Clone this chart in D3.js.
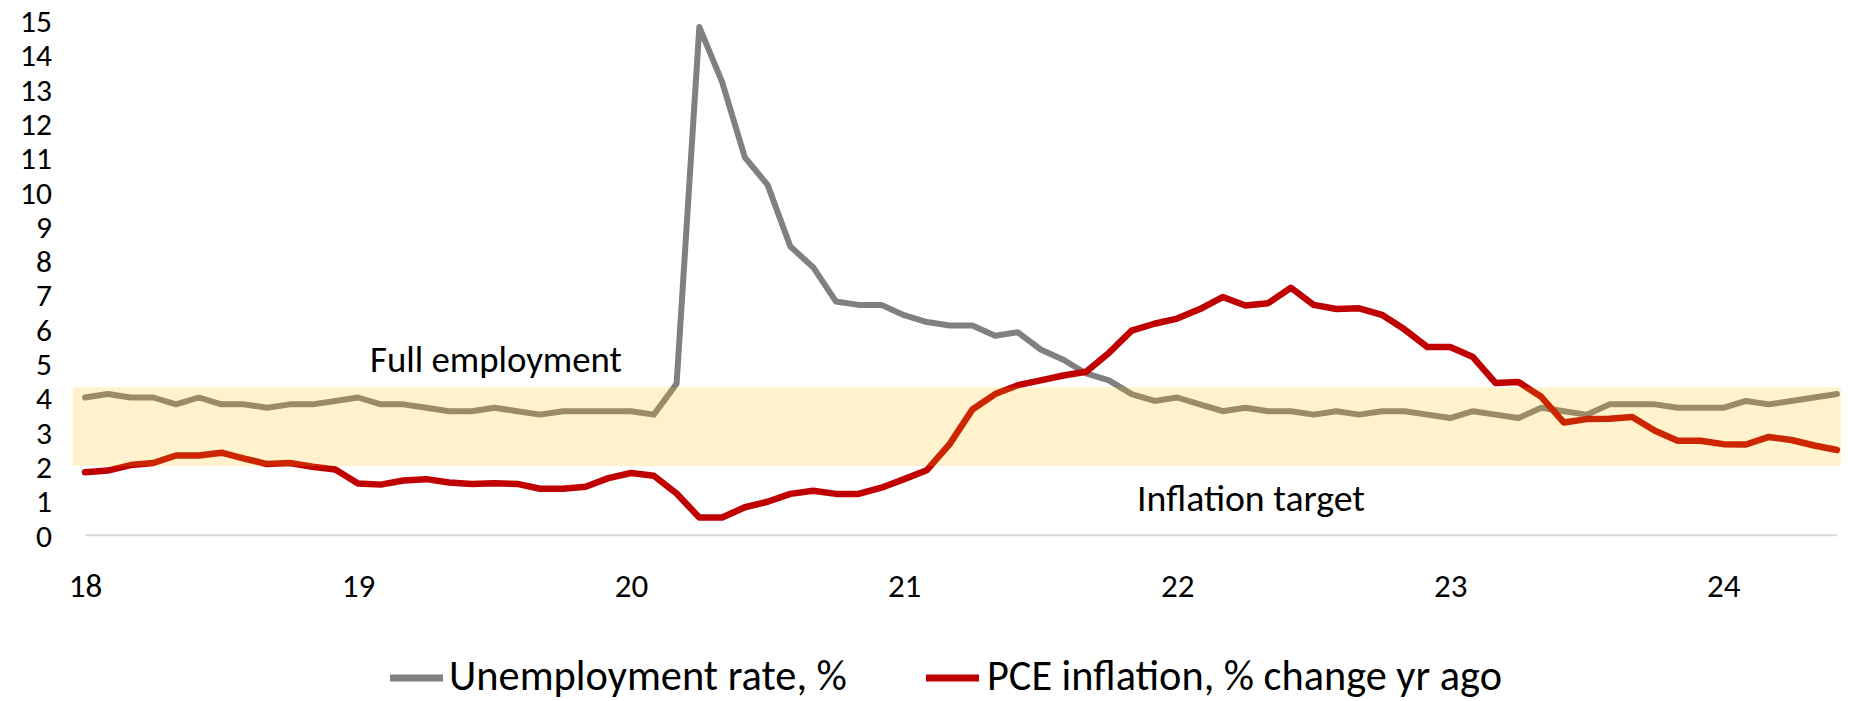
<!DOCTYPE html>
<html>
<head>
<meta charset="utf-8">
<script src="https://cdn.jsdelivr.net/npm/d3@7"></script>
<style>
  html, body { margin: 0; padding: 0; background: #ffffff; }
  svg { display: block; }
  text { font-family: Carlito, Calibri, Lato, sans-serif; fill: #000; }
</style>
</head>
<body>
<svg id="chart" width="1852" height="701"></svg>
<script>
// ---------------- data ----------------
const yearLabels = ["18", "19", "20", "21", "22", "23", "24"];
const monthsPerYear = 12;
const nPoints = 78; // Jan 2018 .. Jun 2024
const categories = [];
for (let i = 0; i < nPoints; i++) {
  categories.push(yearLabels[Math.floor(i / monthsPerYear)] + "-" + String(i % monthsPerYear + 1).padStart(2, "0"));
}

const unemployment = [
  4.0, 4.1, 4.0, 4.0, 3.8, 4.0, 3.8, 3.8, 3.7, 3.8, 3.8, 3.9,
  4.0, 3.8, 3.8, 3.7, 3.6, 3.6, 3.7, 3.6, 3.5, 3.6, 3.6, 3.6,
  3.6, 3.5, 4.4, 14.8, 13.2, 11.0, 10.2, 8.4, 7.8, 6.8, 6.7, 6.7,
  6.4, 6.2, 6.1, 6.1, 5.8, 5.9, 5.4, 5.1, 4.7, 4.5, 4.1, 3.9,
  4.0, 3.8, 3.6, 3.7, 3.6, 3.6, 3.5, 3.6, 3.5, 3.6, 3.6, 3.5,
  3.4, 3.6, 3.5, 3.4, 3.7, 3.6, 3.5, 3.8, 3.8, 3.8, 3.7, 3.7,
  3.7, 3.9, 3.8, 3.9, 4.0, 4.1
];

const pceInflation = [
  1.82, 1.87, 2.03, 2.09, 2.31, 2.31, 2.39, 2.22, 2.06, 2.09, 1.98, 1.90,
  1.49, 1.46, 1.58, 1.62, 1.52, 1.48, 1.50, 1.48, 1.34, 1.34, 1.40, 1.65,
  1.80, 1.72, 1.20, 0.50, 0.50, 0.80, 0.96, 1.19, 1.28, 1.19, 1.19, 1.37,
  1.62, 1.88, 2.64, 3.65, 4.10, 4.36, 4.50, 4.64, 4.75, 5.30, 5.95, 6.15,
  6.30, 6.58, 6.93, 6.68, 6.75, 7.20, 6.70, 6.58, 6.60, 6.41, 5.98, 5.47,
  5.47, 5.18, 4.42, 4.45, 4.02, 3.27, 3.37, 3.38, 3.43, 3.03, 2.74, 2.74,
  2.64, 2.63, 2.85, 2.76, 2.60, 2.47
];

const yTicks = [0, 1, 2, 3, 4, 5, 6, 7, 8, 9, 10, 11, 12, 13, 14, 15];
const bandRange = [2.0, 4.3];
const seriesNames = ["Unemployment rate, %", "PCE inflation, % change yr ago"];
const annotations = ["Full employment", "Inflation target"];

// ---------------- layout ----------------
const svg = d3.select("#chart");
const colors = { unemp: "#808080", pce: "#C00000", band: "#FFC000", axis: "#D9D9D9" };
const FONT = "Carlito, Calibri, Lato, sans-serif";

const x = d3.scalePoint().domain(categories).range([85, 1837]);
const y = d3.scaleLinear().domain([0, 15]).range([534.7, 20.2]);

// y axis labels
const yAxis = d3.axisLeft(y).tickValues(yTicks).tickFormat(d3.format("d")).tickSize(0).tickPadding(0);
const gy = svg.append("g").attr("transform", "translate(52,0)").call(yAxis);
gy.select(".domain").remove();
gy.selectAll("text").attr("dy", "0.36em").style("font-size", "31.5px").style("font-family", FONT).attr("fill", "#000");

// x axis
const janCats = categories.filter((c, i) => i % monthsPerYear === 0);
const xAxis = d3.axisBottom(x).tickValues(janCats).tickFormat(c => c.split("-")[0]).tickSize(0).tickSizeOuter(0);
const gx = svg.append("g").attr("transform", `translate(0,${y(0)})`).call(xAxis);
gx.select(".domain").attr("stroke", colors.axis).attr("stroke-width", 2);
gx.selectAll("text").attr("y", 62).attr("dy", 0)
  .style("font-size", "33px").style("font-family", FONT).attr("fill", "#000");

// lines
const line = d3.line().x((d, i) => x(categories[i])).y(d => y(d));
svg.append("path").datum(unemployment).attr("d", line)
  .attr("fill", "none").attr("stroke", colors.unemp).attr("stroke-width", 6)
  .attr("stroke-linejoin", "round").attr("stroke-linecap", "round");
svg.append("path").datum(pceInflation).attr("d", line)
  .attr("fill", "none").attr("stroke", colors.pce).attr("stroke-width", 6.5)
  .attr("stroke-linejoin", "round").attr("stroke-linecap", "round");

// translucent band (drawn over the lines, as in the original)
const x0 = x(categories[0]) - 12, x1 = x(categories[nPoints - 1]) + 4;
svg.append("rect")
  .attr("x", x0).attr("width", x1 - x0)
  .attr("y", y(bandRange[1])).attr("height", y(bandRange[0]) - y(bandRange[1]))
  .attr("fill", colors.band).attr("fill-opacity", 0.2);

// helper: fit text to target width
function fit(sel, target, base) {
  sel.style("font-size", base + "px");
  const w = sel.node().getComputedTextLength();
  if (w > 0) sel.style("font-size", (base * target / w).toFixed(2) + "px");
  return sel;
}

// annotations
fit(svg.append("text").attr("x", 370).attr("y", 372).text(annotations[0]), 252, 34);
fit(svg.append("text").attr("x", 1137).attr("y", 511).text(annotations[1]), 228, 34);

// legend
const legendItems = [
  { name: seriesNames[0], color: colors.unemp, lx: 390, tx: 449, tw: 398 },
  { name: seriesNames[1], color: colors.pce, lx: 926, tx: 987, tw: 515 }
];
const lg = svg.append("g");
legendItems.forEach(it => {
  lg.append("line").attr("x1", it.lx).attr("x2", it.lx + 53).attr("y1", 678).attr("y2", 678)
    .attr("stroke", it.color).attr("stroke-width", 7);
  fit(lg.append("text").attr("x", it.tx).attr("y", 690).text(it.name), it.tw, 38);
});
</script>
</body>
</html>
